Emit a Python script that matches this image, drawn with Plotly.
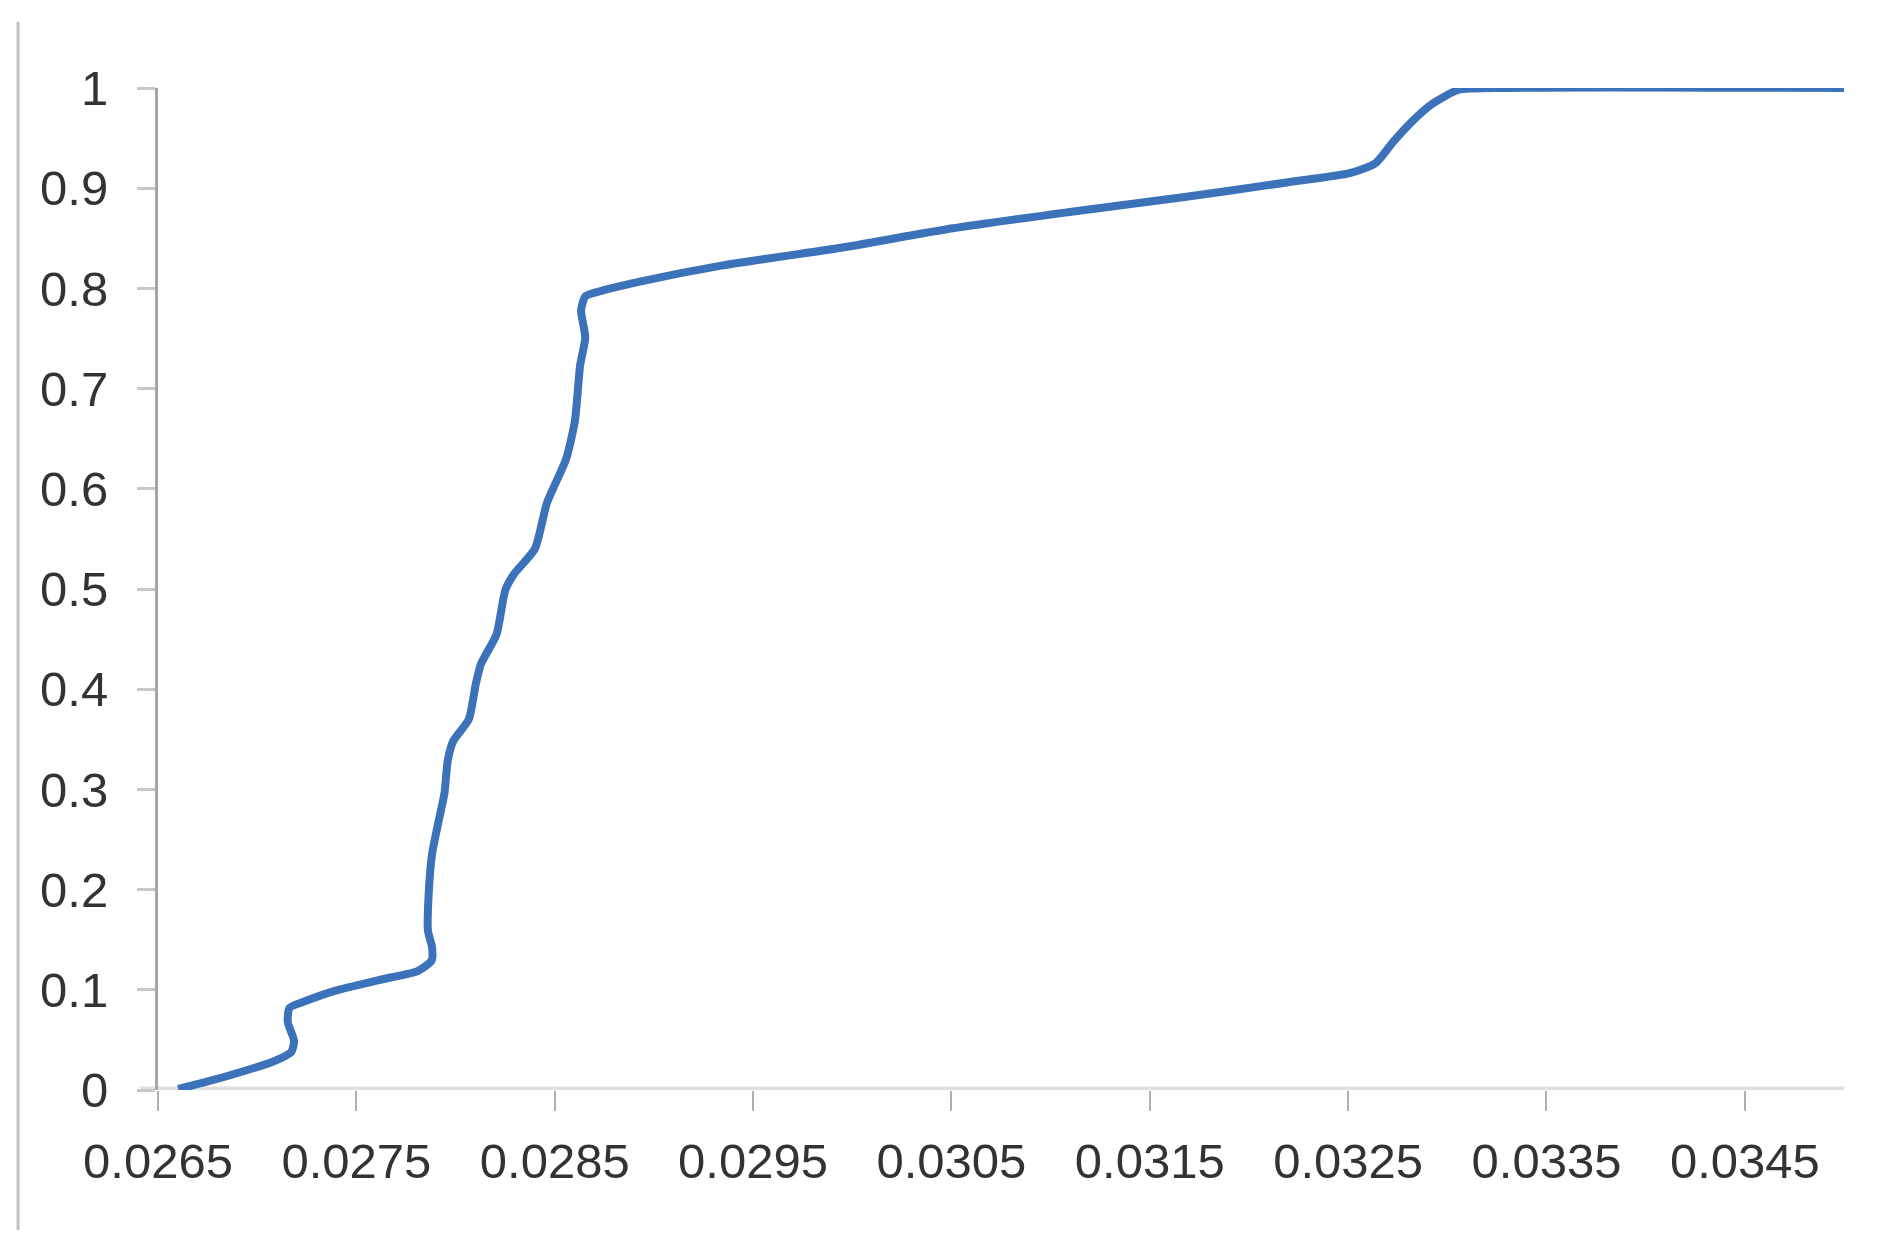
import plotly.graph_objects as go

# traced cumulative curve (x value, cumulative fraction)
x_vals = [0.026602, 0.026742, 0.026918, 0.027075, 0.027172, 0.027186, 0.027154,
          0.027163, 0.027233, 0.027391, 0.027619, 0.027812, 0.027879, 0.027882,
          0.027861, 0.027865, 0.027882, 0.027909, 0.027944, 0.027961, 0.027988,
          0.028067, 0.028102, 0.028128, 0.028207, 0.028251, 0.028295, 0.028400,
          0.028461, 0.028558, 0.028602, 0.028628, 0.028654, 0.028633, 0.028654,
          0.028707, 0.028935, 0.029347, 0.029927, 0.030507, 0.031087, 0.031667,
          0.032199, 0.032508, 0.032638, 0.032726, 0.032814, 0.032923, 0.033055,
          0.033296, 0.035000]
y_vals = [0.001, 0.008, 0.018, 0.028, 0.038, 0.049, 0.068,
          0.082, 0.088, 0.099, 0.110, 0.119, 0.129, 0.142,
          0.159, 0.197, 0.236, 0.263, 0.296, 0.329, 0.348,
          0.370, 0.405, 0.425, 0.455, 0.499, 0.515, 0.540,
          0.586, 0.630, 0.668, 0.723, 0.751, 0.778, 0.792,
          0.796, 0.807, 0.823, 0.840, 0.860, 0.876, 0.891,
          0.906, 0.915, 0.925, 0.946, 0.965, 0.984, 0.998,
          1.000, 1.000]

x_ticks = [0.0265, 0.0275, 0.0285, 0.0295, 0.0305, 0.0315, 0.0325, 0.0335, 0.0345]
x_labels = ["0.0265", "0.0275", "0.0285", "0.0295", "0.0305", "0.0315", "0.0325", "0.0335", "0.0345"]
y_ticks = [0, 0.1, 0.2, 0.3, 0.4, 0.5, 0.6, 0.7, 0.8, 0.9, 1]
y_labels = ["0", "0.1", "0.2", "0.3", "0.4", "0.5", "0.6", "0.7", "0.8", "0.9", "1"]

FONT = "Liberation Sans, Arial, sans-serif"

fig = go.Figure()
fig.add_trace(go.Scatter(
    x=x_vals, y=y_vals, mode="lines",
    line=dict(color="#3b72b9", width=8, shape="spline", smoothing=0.6),
    showlegend=False,
))

# page has an 8px body margin, so the figure is a bit smaller than the window
fig.update_layout(
    width=1865, height=1232,
    margin=dict(l=150, r=29, t=80, b=150),
    paper_bgcolor="white", plot_bgcolor="white",
    font=dict(family=FONT, size=49, color="#333333"),
    shapes=[
        # baseline that runs under the y-axis tick at 0
        dict(type="line", xref="paper", yref="y", x0=-0.0107, x1=1, y0=0, y1=0,
             line=dict(color="#e0e0e0", width=7), layer="below"),
        # thin frame line at the left edge of the picture
        dict(type="line", xref="paper", yref="paper", x0=-0.083, x1=-0.083,
             y0=-0.1397, y1=1.066, line=dict(color="#c0c0c0", width=3)),
    ],
)
fig.update_xaxes(
    range=[0.0265, 0.035], tickvals=x_ticks, ticktext=x_labels,
    showgrid=False, zeroline=False, showline=False, automargin=False,
    ticks="outside", ticklen=20, tickwidth=2, tickcolor="#b0b0b0",
    ticklabelstandoff=8,
)
fig.update_yaxes(
    range=[0, 1], tickvals=y_ticks, ticktext=y_labels,
    showgrid=False, zeroline=False, automargin=False,
    showline=True, linecolor="#a6a6a6", linewidth=3,
    ticks="outside", ticklen=18, tickwidth=3, tickcolor="#c8c8c8",
    ticklabelstandoff=19,
)

fig.write_html("out.html")
